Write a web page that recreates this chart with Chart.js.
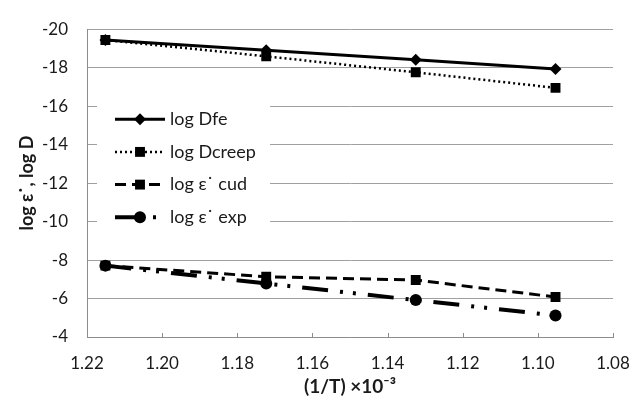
<!DOCTYPE html>
<html>
<head>
<meta charset="utf-8">
<script src="https://cdn.jsdelivr.net/npm/chart.js@4"></script>
<style>
html,body{margin:0;padding:0;background:#fff;}
#wrap{width:640px;height:403px;}
</style>
</head>
<body>
<div id="wrap"><canvas id="c" width="640" height="403"></canvas></div>
<script>
// ---- data ----
const xValues = [1.2151, 1.1723, 1.1325, 1.0953];
const logDfe = [-19.44, -18.90, -18.41, -17.93];
const logDcreep = [-19.44, -18.59, -17.76, -16.95];
const logEpsCud = [-7.71, -7.13, -6.96, -6.08];
const logEpsExp = [-7.71, -6.78, -5.92, -5.12];
const seriesNames = ['log Dfe', 'log Dcreep', 'log \u03b5\u02d9 cud', 'log \u03b5\u02d9 exp'];
const xTicks = [1.08, 1.10, 1.12, 1.14, 1.16, 1.18, 1.20, 1.22];
const yTicks = [-20, -18, -16, -14, -12, -10, -8, -6, -4];
const xTitle = '(1/T) \u00d710\u207b\u00b3';
const yTitle = 'log \u03b5\u02d9, log D';

const FONT = 'Lato, "Liberation Sans", sans-serif';

function pts(ys){ return xValues.map((x,i)=>({x:x,y:ys[i]})); }

const styles = [
  {dash:[], width:3, point:'rectRot', radius:6},
  {dash:[2,3], width:2.5, point:'rect', radius:7},
  {dash:[11,6], width:3, point:'rect', radius:7},
  {dash:[26,12,3,10,3,12], width:4, point:'circle', radius:6}
];
const seriesData = [logDfe, logDcreep, logEpsCud, logEpsExp];

const datasets = seriesData.map((d,i)=>({
  label: seriesNames[i],
  data: pts(d),
  borderColor:'#000',
  backgroundColor:'#000',
  borderWidth: styles[i].width,
  borderDash: styles[i].dash,
  pointStyle: styles[i].point,
  pointRadius: styles[i].radius,
  pointBorderWidth: 0,
  pointBackgroundColor:'#000',
  fill:false,
  tension:0
}));

const legendPlugin = {
  id:'insideLegend',
  afterDatasetsDraw(chart){
    const ctx = chart.ctx, a = chart.chartArea;
    const bx = a.left + 10, by = a.top + 76, bw = 173, bh = 132;
    ctx.save();
    ctx.fillStyle = '#fff';
    ctx.fillRect(bx, by, bw, bh);
    const rowH = 32.7;
    chart.data.datasets.forEach((ds,i)=>{
      const cy = a.top + 90 + i*rowH;
      const x0 = a.left + 28, x1 = a.left + 78, xm = (x0+x1)/2;
      ctx.strokeStyle = '#000';
      ctx.lineWidth = ds.borderWidth;
      ctx.setLineDash(ds.borderDash || []);
      ctx.beginPath();
      ctx.moveTo(x0, cy); ctx.lineTo(x1, cy);
      ctx.stroke();
      ctx.setLineDash([]);
      ctx.fillStyle = '#000';
      Chart.helpers.drawPoint(ctx, {pointStyle: ds.pointStyle, radius: ds.pointRadius, borderWidth:0}, xm, cy);
      ctx.fillStyle = '#1a1a1a';
      ctx.font = '18px ' + FONT;
      ctx.textBaseline = 'middle';
      ctx.textAlign = 'left';
      ctx.fillText(ds.label, a.left + 83, cy);
    });
    ctx.restore();
  },
  afterDraw(chart){
    const ctx = chart.ctx, xs = chart.scales.x, a = chart.chartArea;
    ctx.save();
    ctx.strokeStyle = '#8c8c8c';
    ctx.lineWidth = 1;
    xTicks.forEach(v=>{
      const px = Math.round(xs.getPixelForValue(v)) + 0.5;
      ctx.beginPath();
      ctx.moveTo(px, a.bottom - 4); ctx.lineTo(px, a.bottom);
      ctx.stroke();
    });
    ctx.restore();
  }
};

new Chart(document.getElementById('c'), {
  type:'line',
  data:{datasets:datasets},
  plugins:[legendPlugin],
  options:{
    responsive:false,
    animation:false,
    devicePixelRatio:1,
    layout:{padding:{left:0, top:15, right:27, bottom:0}},
    plugins:{legend:{display:false}, tooltip:{enabled:false}},
    scales:{
      x:{
        type:'linear',
        reverse:true,
        min:1.08, max:1.22,
        afterBuildTicks(s){ s.ticks = xTicks.map(v=>({value:v})); },
        afterFit(s){ s.height = 66; },
        grid:{display:false, drawTicks:false},
        border:{display:true, color:'#8c8c8c', width:1},
        ticks:{
          padding:16,
          color:'#1a1a1a',
          font:{family:FONT, size:17},
          callback:(v)=>Number(v).toFixed(2)
        },
        title:{display:true, text:xTitle, color:'#1a1a1a',
          font:{family:FONT, size:19, weight:'bold'}, padding:{top:0, bottom:5}}
      },
      y:{
        type:'linear',
        reverse:true,
        min:-20, max:-4,
        afterBuildTicks(s){ s.ticks = yTicks.map(v=>({value:v})); },
        afterFit(s){ s.width = 87; },
        grid:{color:'#a0a0a0', lineWidth:1, drawTicks:false},
        border:{display:true, color:'#8c8c8c', width:1},
        ticks:{
          padding:19,
          color:'#1a1a1a',
          font:{family:FONT, size:17},
          callback:(v)=>String(v)
        },
        title:{display:true, text:yTitle, color:'#1a1a1a',
          font:{family:FONT, size:18, weight:'bold'}, padding:{top:16, bottom:0}}
      }
    }
  }
});
</script>
</body>
</html>
